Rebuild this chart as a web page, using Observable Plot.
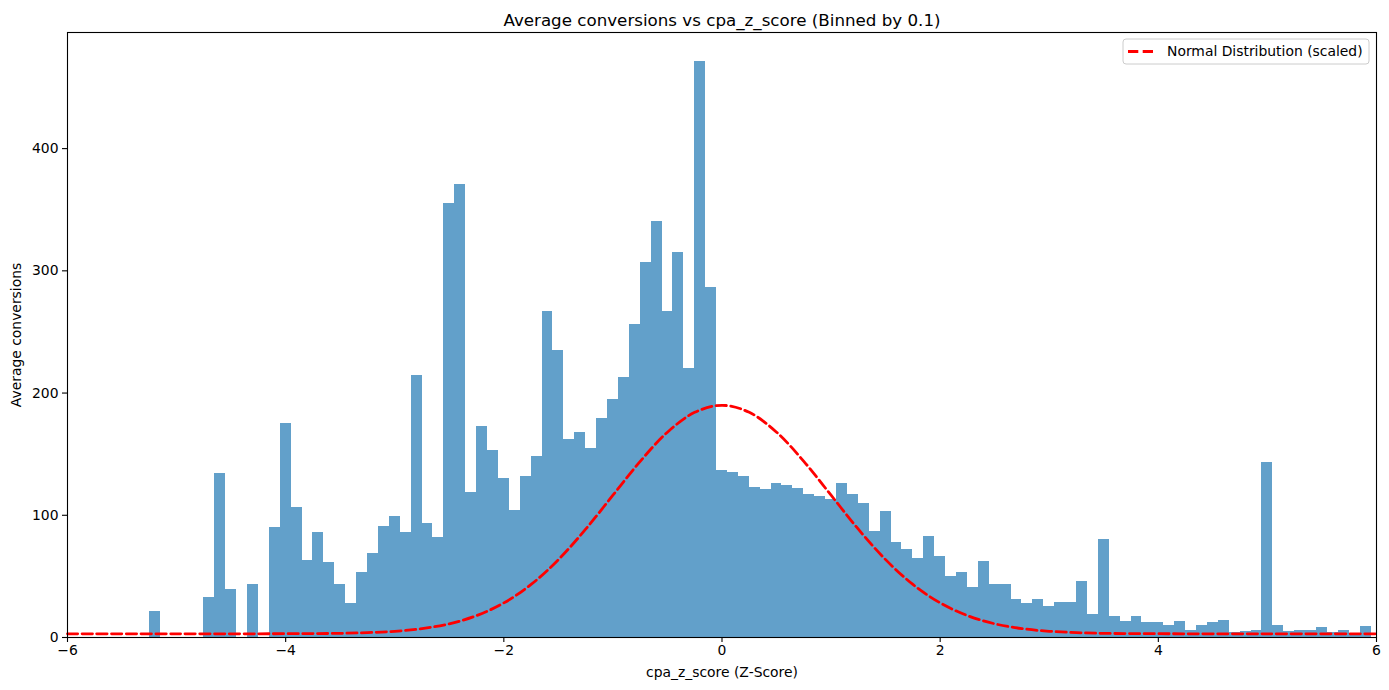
<!DOCTYPE html>
<html>
<head>
<meta charset="utf-8">
<script src="https://cdn.jsdelivr.net/npm/d3@7"></script>
<script src="https://cdn.jsdelivr.net/npm/@observablehq/plot@0.6"></script>
<style>
  html, body { margin: 0; padding: 0; background: white; }
  #chart { width: 1389px; height: 690px; }
</style>
</head>
<body>
<div id="chart"></div>
<script>
// Bin centres (cpa_z_score, bins of 0.1) and average conversions per bin
const binCenters = [
  -5.2, -4.7, -4.6, -4.5, -4.3, -4.1, -4.0, -3.9, -3.8, -3.7, -3.6, -3.5, -3.4, -3.3, -3.2, -3.1,
  -3.0, -2.9, -2.8, -2.7, -2.6, -2.5, -2.4, -2.3, -2.2, -2.1, -2.0, -1.9, -1.8, -1.7, -1.6, -1.5,
  -1.4, -1.3, -1.2, -1.1, -1.0, -0.9, -0.8, -0.7, -0.6, -0.5, -0.4, -0.3, -0.2, -0.1,
  0.0, 0.1, 0.2, 0.3, 0.4, 0.5, 0.6, 0.7, 0.8, 0.9, 1.0, 1.1, 1.2, 1.3, 1.4, 1.5, 1.6, 1.7, 1.8, 1.9,
  2.0, 2.1, 2.2, 2.3, 2.4, 2.5, 2.6, 2.7, 2.8, 2.9, 3.0, 3.1, 3.2, 3.3, 3.4, 3.5, 3.6, 3.7, 3.8, 3.9,
  4.0, 4.1, 4.2, 4.3, 4.4, 4.5, 4.6, 4.7, 4.8, 4.9, 5.0, 5.1, 5.2, 5.3, 5.4, 5.5, 5.6, 5.7, 5.8, 5.9
];
const avgConversions = [
  21, 33, 134, 39, 43, 90, 175, 106, 63, 86, 61, 43, 28, 53, 69, 91,
  99, 86, 214, 93, 82, 355, 371, 119, 173, 153, 130, 104, 132, 148, 267, 235,
  162, 168, 155, 179, 195, 213, 256, 307, 340, 267, 315, 220, 471, 286,
  137, 135, 132, 123, 121, 126, 124, 122, 117, 115, 113, 126, 117, 110, 87, 103, 78, 72, 65, 83,
  66, 50, 53, 41, 62, 43, 43, 31, 28, 31, 25, 29, 29, 46, 19, 80, 17, 13, 17, 12,
  12, 9.5, 13, 5.5, 10, 12, 14, 4, 5, 6, 143, 9.5, 5, 6, 6, 8, 4, 5.5, 3.5, 8.7
];
const binWidth = 0.1;

// Normal distribution (scaled) curve
const curveX = [-6, -5, -4, -3.5, -3.25, -3, -2.75, -2.5, -2.25, -2, -1.75, -1.5, -1.25, -1, -0.75, -0.5, -0.25,
  0, 0.25, 0.5, 0.75, 1, 1.25, 1.5, 1.75, 2, 2.25, 2.5, 2.75, 3, 3.25, 3.5, 4, 5, 6];
const curveY = [3, 3, 3.1, 3.4, 4.0, 5.1, 7.3, 11.2, 17.9, 28.3, 43.4, 63.7, 88.6, 116.4, 144.1, 168.0, 184.2,
  190, 184.2, 168.0, 144.1, 116.4, 88.6, 63.7, 43.4, 28.3, 17.9, 11.2, 7.3, 5.1, 4.0, 3.4, 3.1, 3, 3];

const xTicks = [-6, -4, -2, 0, 2, 4, 6];
const yTicks = [0, 100, 200, 300, 400];

const titleText = "Average conversions vs cpa_z_score (Binned by 0.1)";
const xLabel = "cpa_z_score (Z-Score)";
const yLabel = "Average conversions";
const legendLabel = "Normal Distribution (scaled)";

const bars = binCenters.map((x, i) => ({x, v: avgConversions[i]}));
const curve = curveX.map((x, i) => ({x, y: curveY[i]}));

const W = 1389, H = 690;
const mL = 67, mR = 13, mT = 32, mB = 53;

const chart = Plot.plot({
  width: W,
  height: H,
  marginLeft: mL,
  marginRight: mR,
  marginTop: mT,
  marginBottom: mB,
  style: {fontFamily: "'DejaVu Sans', sans-serif", fontSize: "13.9px", color: "black", background: "white", overflow: "visible"},
  x: {domain: [-6, 6]},
  y: {domain: [0, 495]},
  marks: [
    Plot.rectY(bars, {
      x1: d => d.x - binWidth / 2,
      x2: d => d.x + binWidth / 2,
      y: "v",
      fill: "#1f77b4",
      fillOpacity: 0.7,
      shapeRendering: "crispEdges"
    }),
    Plot.line(curve, {
      x: "x", y: "y", stroke: "red", strokeWidth: 2.78,
      strokeDasharray: "10.3,4.4", curve: "catmull-rom"
    }),
    Plot.frame({stroke: "black", strokeWidth: 1.1}),
    Plot.axisX({ticks: xTicks, tickSize: 5, tickPadding: 3, label: null, fontSize: 13.9, stroke: "black", strokeWidth: 1.1}),
    Plot.axisY({ticks: yTicks, tickSize: 5, tickPadding: 4, label: null, fontSize: 13.9, stroke: "black", strokeWidth: 1.1}),
    Plot.text([titleText], {frameAnchor: "top", dy: -7, lineAnchor: "bottom", fontSize: 16.7, fill: "black"}),
    Plot.text([xLabel], {frameAnchor: "bottom", dy: 35, lineAnchor: "middle", fontSize: 13.9, fill: "black"}),
    Plot.text([yLabel], {frameAnchor: "left", dx: -51, rotate: -90, lineAnchor: "middle", textAnchor: "middle", fontSize: 13.9, fill: "black"})
  ]
});

// Legend (upper right, matplotlib-style)
const svg = d3.select(chart);
const lg = svg.append("g").attr("font-family", "'DejaVu Sans', sans-serif").attr("text-anchor", "start");
const lx = W - mR - 7 - 246, ly = mT + 7;
lg.append("rect")
  .attr("x", lx).attr("y", ly).attr("width", 246).attr("height", 25)
  .attr("rx", 3).attr("fill", "white").attr("fill-opacity", 0.8)
  .attr("stroke", "#cccccc").attr("stroke-width", 1);
lg.append("line")
  .attr("x1", lx + 5).attr("x2", lx + 33).attr("y1", ly + 12.5).attr("y2", ly + 12.5)
  .attr("stroke", "red").attr("stroke-width", 2.78).attr("stroke-dasharray", "10.3,4.4");
lg.append("text")
  .attr("x", lx + 44).attr("y", ly + 12.5).attr("dy", "0.35em")
  .attr("text-anchor", "start")
  .attr("font-size", "13.9px").attr("fill", "black")
  .text(legendLabel);

document.getElementById("chart").appendChild(chart);
</script>
</body>
</html>
